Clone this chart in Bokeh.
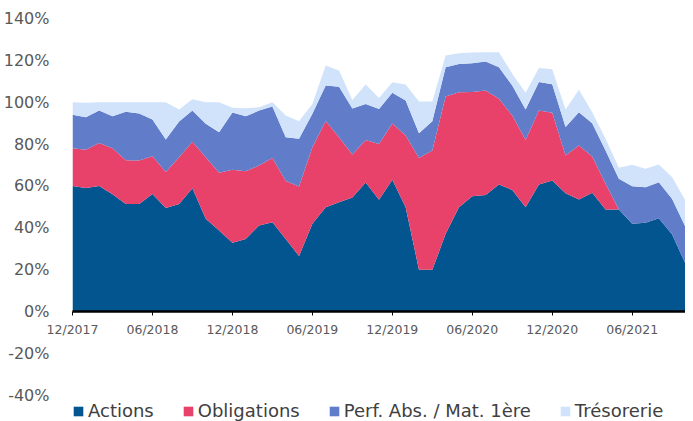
from bokeh.plotting import figure
from bokeh.layouts import column
from bokeh.models import ColumnDataSource, FixedTicker, PrintfTickFormatter, Range1d
from bokeh.embed import file_html
from bokeh.resources import INLINE

months = ["12/2017", "01/2018", "02/2018", "03/2018", "04/2018", "05/2018", "06/2018", "07/2018",
          "08/2018", "09/2018", "10/2018", "11/2018", "12/2018", "01/2019", "02/2019", "03/2019",
          "04/2019", "05/2019", "06/2019", "07/2019", "08/2019", "09/2019", "10/2019", "11/2019",
          "12/2019", "01/2020", "02/2020", "03/2020", "04/2020", "05/2020", "06/2020", "07/2020",
          "08/2020", "09/2020", "10/2020", "11/2020", "12/2020", "01/2021", "02/2021", "03/2021",
          "04/2021", "05/2021", "06/2021", "07/2021", "08/2021", "09/2021", "10/2021"]

actions = [60, 59, 60, 56, 51.4, 51.4, 56.2, 49.4, 51.4, 58.9,
           44.3, 38.7, 32.8, 34.7, 41.1, 42.7, 34.7, 26.5, 41.9, 49.8,
           52.2, 54.5, 61.6, 53.4, 63, 49.8, 19.9, 19.9, 37.1, 49.8,
           55.1, 55.7, 60.7, 58.1, 49.8, 60.7, 62.6, 56.5, 53.5, 56.7,
           48.7, 48.7, 41.9, 42.4, 44.6, 36.8, 22.8]
obligations = [18, 18.3, 20.5, 22, 20.9, 20.7, 18, 17.2, 22.3, 22.2,
               29.4, 27.6, 34.9, 32.3, 28.7, 30.7, 27.6, 33.2, 36.6, 41.2,
               31.1, 20.5, 20.4, 26.6, 26.8, 34.3, 53.5, 57, 65.6, 55,
               49.8, 49.9, 40.9, 35.5, 32.2, 35.3, 32.4, 18, 25.8, 17.4,
               12.3, 0, 0, 0, 0, 0, 0]
perf_abs = [16, 15.5, 15.5, 15.3, 23.1, 22.5, 17.5, 15.6, 17.1, 14.9,
            16, 19.4, 27.4, 26.3, 26.2, 24.5, 21, 22.8, 16, 17,
            24.1, 22, 17.2, 16.7, 14.7, 16.7, 11.8, 14, 14, 13.5,
            13.7, 13.8, 15.1, 14.4, 14.5, 13.6, 13.6, 13.6, 15.9, 15.9,
            15.9, 14.7, 18, 17, 17.2, 17, 17.5]
tresorerie = [6, 6.9, 4, 6.7, 4.6, 5.4, 8.3, 17.8, 5.7, 5.4,
              10.3, 14.3, 2.2, 3.8, 1.6, 2.1, 10.3, 8.4, 4.7, 9.5,
              7.7, 4, 9.3, 5.3, 5, 7.7, 15.1, 9.4, 5.6, 5.1,
              5.1, 4.5, 7.2, 5.6, 8, 6.8, 7.2, 8.4, 10.7, 5.2,
              5.6, 5.3, 10.2, 8.8, 8.4, 10.4, 12.7]

series_names = ["Actions", "Obligations", "Perf. Abs. / Mat. 1ère", "Trésorerie"]
colors = ["#02558F", "#E8426B", "#617CC8", "#D0E3FB"]
y_ticks_pos = [0, 20, 40, 60, 80, 100, 120, 140]
y_ticks_neg = [-40, -20]

x = list(range(len(months)))
source = ColumnDataSource(dict(x=x, actions=actions, obligations=obligations,
                               perf=perf_abs, treso=tresorerie))
stackers = ["actions", "obligations", "perf", "treso"]
xr = Range1d(0, len(months) - 1)

FONT = "DejaVu Sans"
GREY = "#595959"


def style_yaxis(ax, ticks):
    ax.ticker = FixedTicker(ticks=ticks)
    ax.formatter = PrintfTickFormatter(format="%d%%")
    ax.axis_line_color = None
    ax.major_tick_line_color = None
    ax.minor_tick_line_color = None
    ax.major_label_standoff = 17
    ax.major_label_text_font = FONT
    ax.major_label_text_font_size = "16px"
    ax.major_label_text_color = GREY


# ---- upper figure: 0 .. 140 %
p = figure(width=685, height=341, output_backend="svg", toolbar_location=None,
           x_range=xr, y_range=(0, 140),
           min_border_left=64, min_border_right=0, min_border_top=18, min_border_bottom=30)
p.varea_stack(stackers, x="x", color=colors, source=source)

xa = p.xaxis[0]
xa.ticker = FixedTicker(ticks=[i for i in x if i % 6 == 0])
xa.major_label_overrides = {i: months[i] for i in x if i % 6 == 0}
xa.axis_line_color = "black"
xa.axis_line_width = 2.5
xa.major_tick_in = 0
xa.major_tick_out = 4
xa.major_tick_line_color = "black"
xa.minor_tick_line_color = None
xa.major_label_standoff = 6
xa.major_label_text_font = FONT
xa.major_label_text_font_size = "12.5px"
xa.major_label_text_color = GREY
style_yaxis(p.yaxis[0], y_ticks_pos)
p.xgrid.visible = False
p.ygrid.visible = False
p.outline_line_color = None

# ---- lower figure: negative part of the axis + legend
q = figure(width=685, height=80, output_backend="svg", toolbar_location=None,
           x_range=xr, y_range=(-52.55, -14.33), x_axis_location=None,
           min_border_left=64, min_border_right=0, min_border_top=0, min_border_bottom=0)
q.varea_stack(stackers, x="x", color=colors, legend_label=series_names, source=source)
style_yaxis(q.yaxis[0], y_ticks_neg)
q.xgrid.visible = False
q.ygrid.visible = False
q.outline_line_color = None

leg = q.legend[0]
leg.orientation = "horizontal"
leg.location = (0, 0)
leg.padding = 0
leg.margin = 0
leg.spacing = 28
leg.glyph_width = 12
leg.glyph_height = 12
leg.label_standoff = 4
leg.label_text_font = FONT
leg.label_text_font_size = "18px"
leg.label_text_color = "#404040"
leg.border_line_color = None
leg.background_fill_alpha = 0

layout = column(p, q, spacing=0)
open("out.html", "w").write(file_html(layout, INLINE))
